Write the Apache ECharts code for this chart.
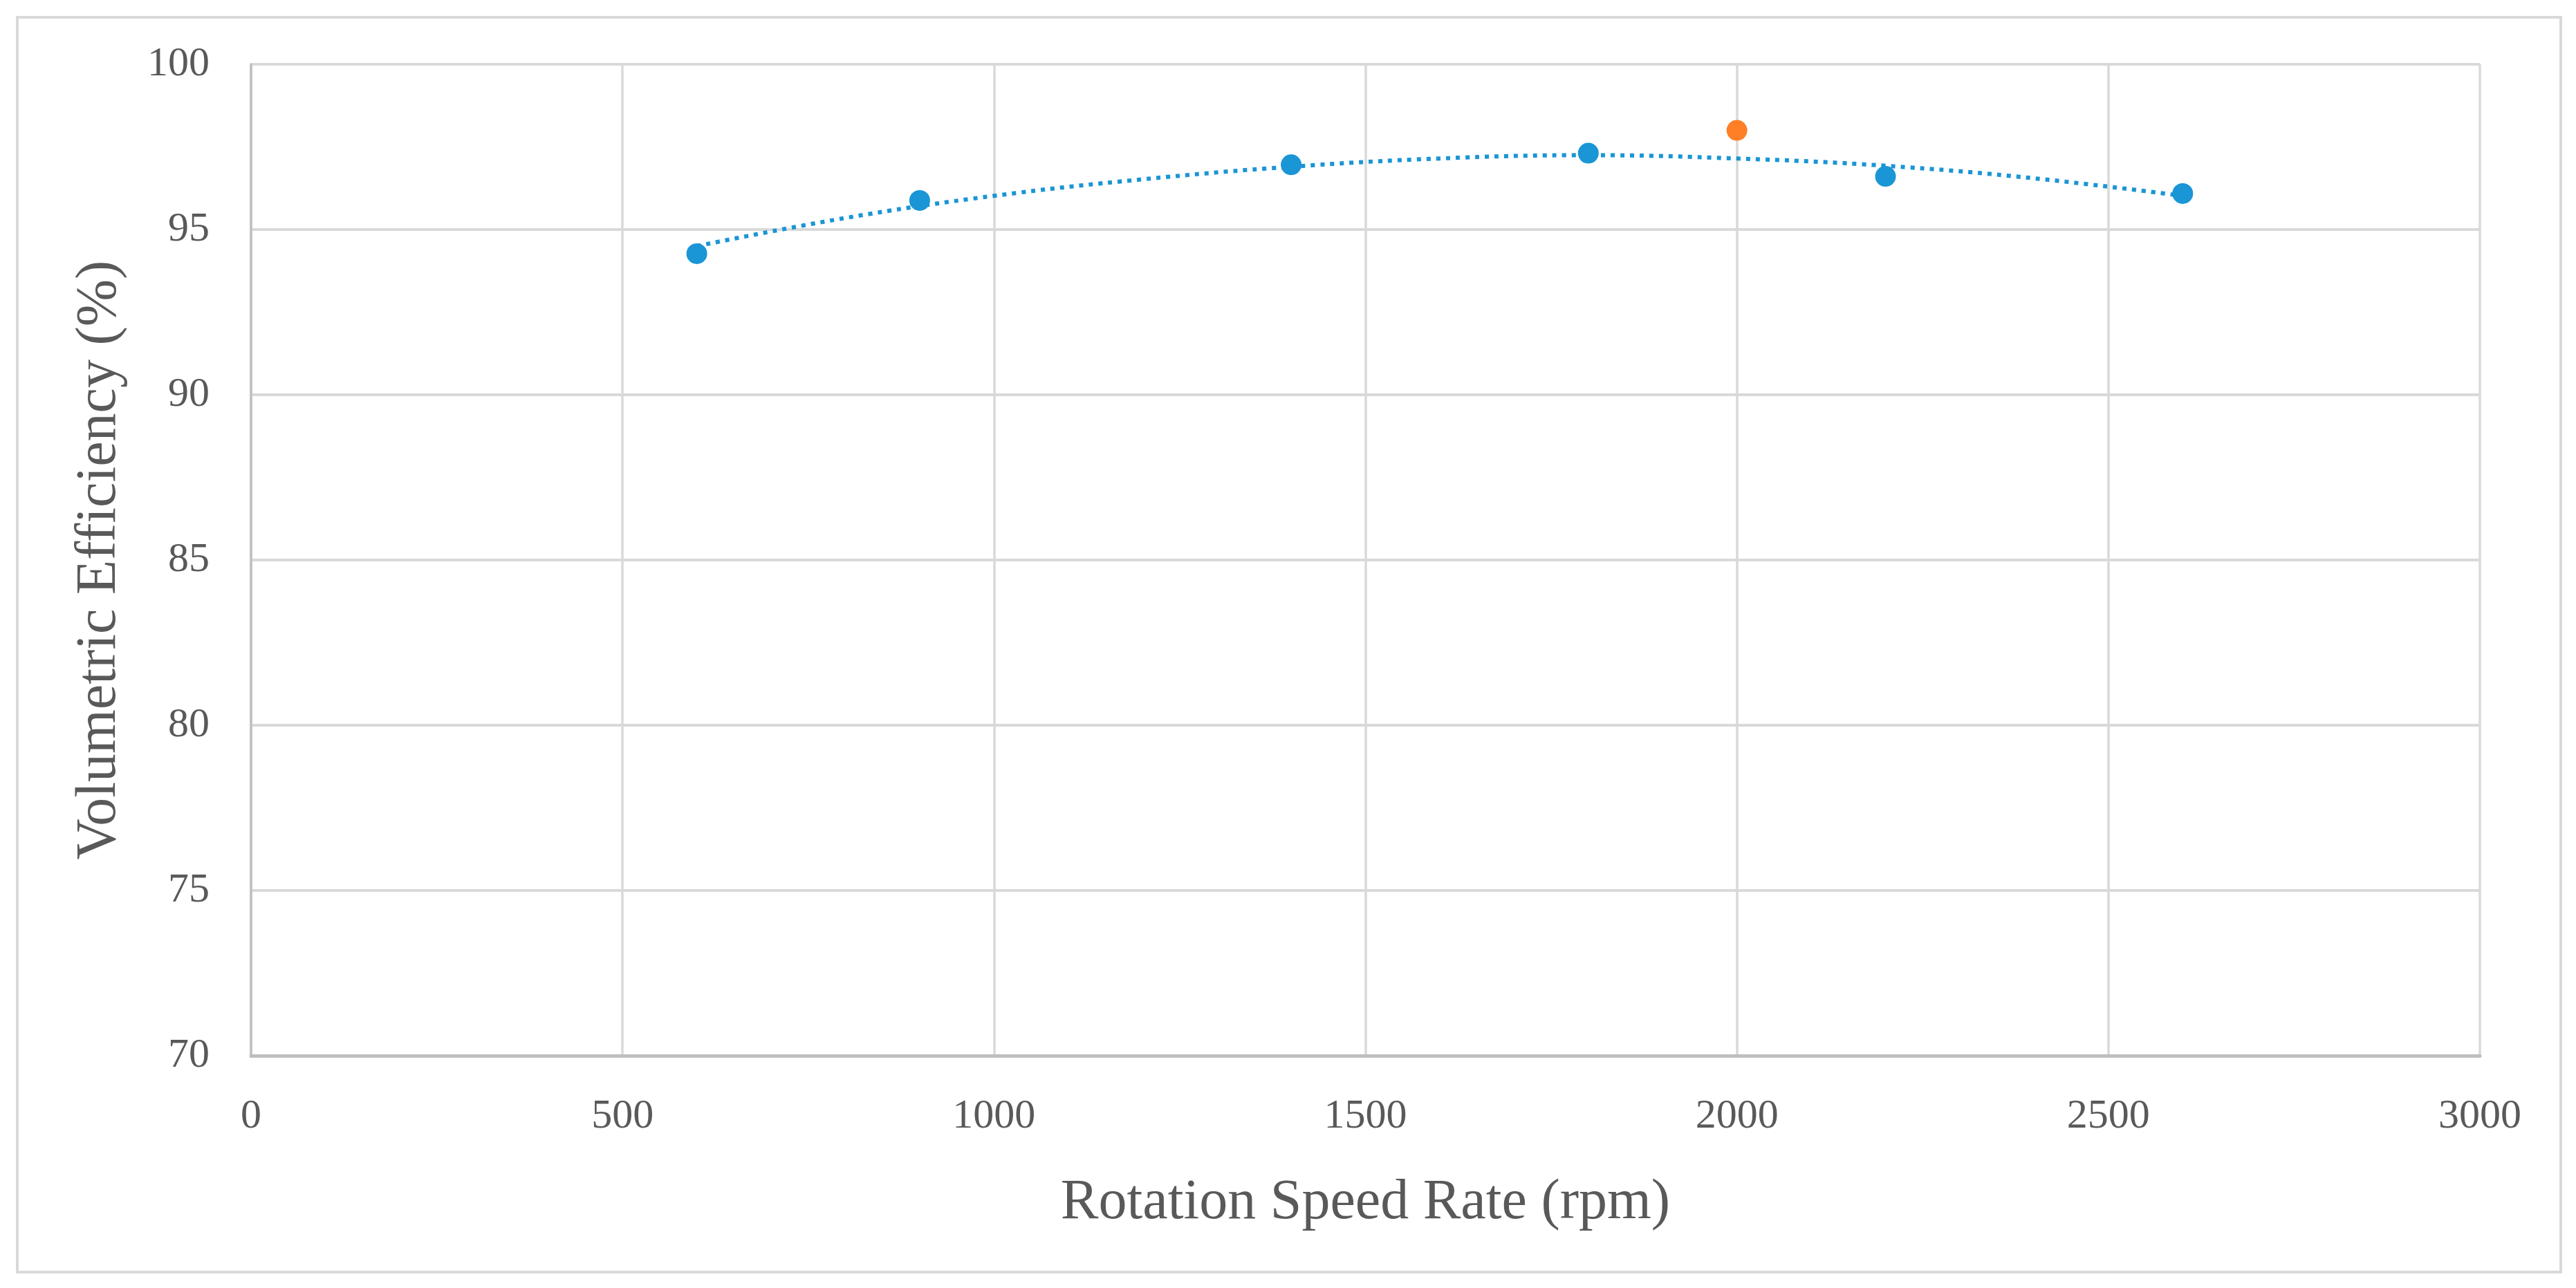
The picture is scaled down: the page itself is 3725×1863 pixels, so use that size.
<!DOCTYPE html>
<html>
<head>
<meta charset="utf-8">
<script src="https://cdn.jsdelivr.net/npm/echarts@6/dist/echarts.min.js"></script>
<style>
  html, body { margin: 0; padding: 0; background: #ffffff; }
  #chart { width: 3725px; height: 1863px; }
</style>
</head>
<body>
<div id="chart"></div>
<script>
// Measured data (rpm, volumetric efficiency %)
const speeds = [600, 900, 1400, 1800, 2200, 2600];
const efficiency = [94.27, 95.88, 96.96, 97.31, 96.61, 96.09];

// Highlighted point (orange)
const outlierSpeeds = [2000];
const outlierEfficiency = [98.0];

// Dotted trendline
const trendSpeeds = [600, 800, 1000, 1200, 1400, 1600, 1800, 2000, 2200, 2400, 2600];
const trendEfficiency = [94.50, 95.35, 96.02, 96.52, 96.90, 97.15, 97.25, 97.15, 96.93, 96.55, 96.02];

const xAxisName = 'Rotation Speed Rate (rpm)';
const yAxisName = 'Volumetric Efficiency (%)';

const pairs = (xs, ys) => xs.map((x, i) => [x, ys[i]]);

const chart = echarts.init(document.getElementById('chart'), null, { renderer: 'canvas' });
const textColor = '#595959';
const fontFamily = '"Liberation Serif", "DejaVu Serif", serif';

chart.setOption({
  backgroundColor: '#ffffff',
  animation: false,
  graphic: [{
    type: 'rect',
    shape: { x: 25, y: 25, width: 3678, height: 1815 },
    style: { fill: 'none', stroke: '#d9d9d9', lineWidth: 4 },
    silent: true,
    z: -10
  }],
  grid: { left: 363, right: 3725 - 3586, top: 93, bottom: 1863 - 1527, containLabel: false },
  xAxis: {
    type: 'value',
    min: 0, max: 3000, interval: 500,
    name: xAxisName,
    nameLocation: 'middle',
    nameGap: 172,
    nameTextStyle: { color: textColor, fontSize: 82, fontFamily: fontFamily },
    axisLine: { show: true, lineStyle: { color: '#bfbfbf', width: 5 } },
    axisTick: { show: false },
    axisLabel: { color: textColor, fontSize: 60, fontFamily: fontFamily, margin: 58,
                 formatter: (v) => String(v) },
    splitLine: { show: true, lineStyle: { color: '#d9d9d9', width: 3.5 } }
  },
  yAxis: {
    type: 'value',
    min: 70, max: 100, interval: 5,
    name: yAxisName,
    nameLocation: 'middle',
    nameGap: 178,
    nameTextStyle: { color: textColor, fontSize: 82, fontFamily: fontFamily },
    axisLine: { show: true, lineStyle: { color: '#bfbfbf', width: 3.5 } },
    axisTick: { show: false },
    axisLabel: { color: textColor, fontSize: 60, fontFamily: fontFamily, margin: 60 },
    splitLine: { show: true, lineStyle: { color: '#d9d9d9', width: 4 } }
  },
  series: [
    {
      name: 'Trend',
      type: 'line',
      data: pairs(trendSpeeds, trendEfficiency),
      smooth: 0.4,
      showSymbol: false,
      symbol: 'none',
      lineStyle: { color: '#1a95d5', width: 6, type: [6, 8], cap: 'butt' },
      z: 2,
      silent: true
    },
    {
      name: 'Efficiency',
      type: 'scatter',
      data: pairs(speeds, efficiency),
      symbol: 'circle',
      symbolSize: 30,
      itemStyle: { color: '#1a95d5', opacity: 1 },
      z: 3
    },
    {
      name: 'Highlighted',
      type: 'scatter',
      data: pairs(outlierSpeeds, outlierEfficiency),
      symbol: 'circle',
      symbolSize: 30,
      itemStyle: { color: '#ff7f27', opacity: 1 },
      z: 3
    }
  ]
});
</script>
</body>
</html>
